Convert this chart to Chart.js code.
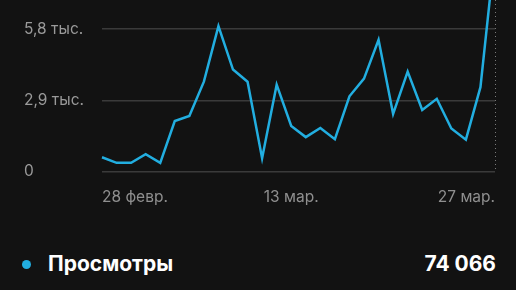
<!DOCTYPE html>
<html>
<head>
<meta charset="utf-8">
<script src="https://cdn.jsdelivr.net/npm/chart.js@4"></script>
<style>
  html, body { margin: 0; padding: 0; background: #121212; }
  body { width: 516px; height: 290px; overflow: hidden; position: relative; font-family: Inter, "Noto Sans", sans-serif; }
  #wrap { position: absolute; left: 0; top: 0; width: 516px; height: 224px; }
  .legend { position: absolute; left: 0; top: 250px; width: 516px; height: 30px; color: #fff; font-weight: 700; font-size: 21px; }
  .dot { position: absolute; left: 22px; top: 10px; width: 9px; height: 9px; border-radius: 50%; background: #22aee0; }
  .name { position: absolute; left: 48px; top: 1px; }
  .total { position: absolute; right: 20px; top: 1px; }
</style>
</head>
<body>
<div id="wrap"><canvas id="chart"></canvas></div>
<div class="legend">
  <span class="dot"></span>
  <span class="name" id="seriesName"></span>
  <span class="total" id="seriesTotal"></span>
</div>
<script>
const labels = ['28 февр.','1 мар.','2 мар.','3 мар.','4 мар.','5 мар.','6 мар.','7 мар.','8 мар.','9 мар.',
  '10 мар.','11 мар.','12 мар.','13 мар.','14 мар.','15 мар.','16 мар.','17 мар.','18 мар.','19 мар.',
  '20 мар.','21 мар.','22 мар.','23 мар.','24 мар.','25 мар.','26 мар.','27 мар.']
const views = [576,350,350,699,350,2057,2262,3661,5923,4155,
  3661,535,3538,1851,1399,1769,1316,3065,3785,5368,
  2345,4073,2509,2962,1748,1296,3435,9000]
const yTicks = [0, 2900, 5800]
const yTickLabels = ['0', '2,9 тыс.', '5,8 тыс.']
const shownDates = [0, 13, 27]
const seriesName = 'Просмотры'
const seriesTotal = '74 066'

document.getElementById('seriesName').textContent = seriesName
document.getElementById('seriesTotal').textContent = seriesTotal

const canvasChart = document.getElementById('chart')

const myChart = new Chart(canvasChart, {
  type: 'line',
  data: {
    labels: labels,
    datasets: [{
      label: seriesName,
      data: views,
      borderColor: '#22aee0',
      borderWidth: 2.5,
      pointRadius: 0,
      tension: 0
    }]
  },
  options: {
    responsive: true,
    maintainAspectRatio: false,
    animation: false,
    layout: { padding: { left: 24, right: 21, top: 0, bottom: 0 } },
    plugins: { legend: { display: false }, tooltip: { enabled: false } },
    scales: {
      x: {
        offset: false,
        grid: {
          drawTicks: false,
          // only the last day gets the dotted marker line
          color: ctx => ctx.index === labels.length - 1 ? '#7a7a7a' : 'transparent',
          lineWidth: 1
        },
        border: { display: false, dash: [1, 3] },
        ticks: {
          autoSkip: false,
          maxRotation: 0,
          align: 'inner',
          padding: 17,
          color: '#8f8f8f',
          font: { family: 'Inter', size: 15.5 },
          callback: (v, i) => shownDates.includes(i) ? labels[i] : ''
        }
      },
      y: {
        min: 0,
        max: 6993,
        border: { display: false },
        grid: { color: '#3a3a3a', lineWidth: 1.5, drawTicks: false },
        afterBuildTicks: s => { s.ticks = yTicks.map(v => ({ value: v })) },
        afterFit: s => { s.width = 78; s.paddingTop = 0; s.paddingBottom = 0 },
        ticks: {
          crossAlign: 'far',
          color: '#9a9a9a',
          font: { family: 'Inter', size: 15.5 },
          callback: v => yTickLabels[yTicks.indexOf(v)]
        }
      }
    }
  }
})
</script>
</body>
</html>
